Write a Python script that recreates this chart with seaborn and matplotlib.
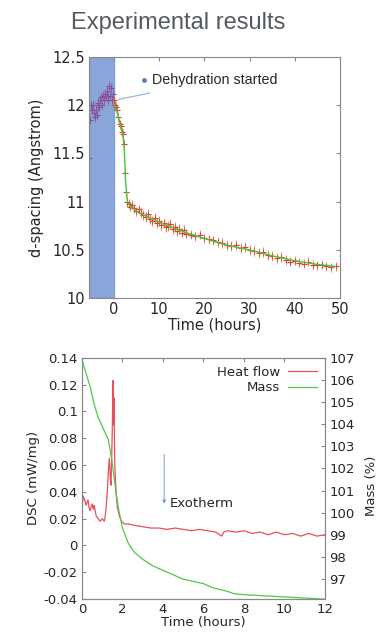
import numpy as np
import pandas as pd
import seaborn as sns
import matplotlib
matplotlib.use("Agg")
import matplotlib.pyplot as plt

# top panel: d-spacing vs time
t_pre = [-5.4, -5.2, -5.0, -4.8, -4.6, -4.4, -4.2, -4.0, -3.8, -3.6, -3.4, -3.2, -3.0, -2.8,
         -2.6, -2.4, -2.2, -2.0, -1.8, -1.6, -1.4, -1.2, -1.0, -0.8, -0.6, -0.4, -0.2]
d_pre = [11.45, 11.85, 12.0, 11.95, 12.0, 11.92, 11.88, 11.95, 11.9, 12.0, 12.02, 11.98, 12.05, 12.08,
         12.0, 12.1, 12.05, 12.12, 12.08, 12.15, 12.05, 12.1, 12.2, 12.1, 12.18, 12.05, 12.12]

t_post = [0.0, 0.25, 0.5, 0.75, 1.0, 1.25, 1.5, 1.75, 2.0, 2.25, 2.5, 2.75, 3.0, 3.25, 3.5, 4, 4.5, 5,
          5.5, 6, 6.5, 7, 7.5, 8, 8.5, 9, 9.5, 10, 10.5, 11, 11.5, 12, 12.5, 13, 13.5, 14, 14.5, 15,
          15.5, 16, 17, 18, 19, 20, 21, 22, 23, 24, 25, 26, 27, 28, 29, 30, 31, 32, 33, 34, 35, 36,
          37, 38, 39, 40, 41, 42, 43, 44, 45, 46, 47, 48, 49]
d_post = [12.05, 12.0, 11.98, 11.95, 11.88, 11.8, 11.78, 11.72, 11.7, 11.6, 11.3, 11.1, 11.0, 10.98,
          10.95, 10.97, 10.93, 10.9, 10.92, 10.88, 10.86, 10.84, 10.87, 10.82, 10.8, 10.83, 10.78, 10.8,
          10.76, 10.78, 10.74, 10.75, 10.77, 10.72, 10.74, 10.7, 10.72, 10.68, 10.71, 10.67, 10.66, 10.64,
          10.66, 10.62, 10.61, 10.6, 10.58, 10.57, 10.55, 10.54, 10.55, 10.52, 10.53, 10.5, 10.49, 10.47,
          10.48, 10.45, 10.44, 10.42, 10.43, 10.4, 10.38, 10.39, 10.37, 10.36, 10.38, 10.35, 10.34, 10.35,
          10.33, 10.32, 10.33]
d_err = 0.05

t_fit = [0, 0.5, 1, 1.5, 2, 2.3, 2.6, 3, 3.5, 5, 8, 12, 16, 20, 25, 30, 35, 40, 45, 49]
d_fit = [12.02, 11.97, 11.88, 11.78, 11.7, 11.55, 11.2, 11.0, 10.96, 10.9, 10.83, 10.75, 10.68,
         10.62, 10.55, 10.5, 10.44, 10.39, 10.35, 10.33]

# bottom panel: DSC heat flow + mass
t_hf = [0, 0.02, 0.05, 0.1, 0.15, 0.2, 0.25, 0.3, 0.35, 0.4, 0.45, 0.5, 0.55, 0.6, 0.65, 0.7, 0.8,
        0.9, 1.0, 1.1, 1.15, 1.2, 1.25, 1.3, 1.35, 1.4, 1.43, 1.46, 1.5, 1.53, 1.55, 1.58, 1.62, 1.68,
        1.75, 1.85, 1.95, 2.1, 2.3, 2.6, 3.0, 3.4, 3.8, 4.2, 4.6, 5.0, 5.4, 5.8, 6.2, 6.6, 6.9, 7.0,
        7.2, 7.6, 8.0, 8.4, 8.8, 9.2, 9.6, 10.0, 10.4, 10.8, 11.2, 11.6, 12.0]
heat_flow = [-0.025, 0.03, 0.037, 0.035, 0.033, 0.03, 0.032, 0.034, 0.028, 0.026, 0.029, 0.031, 0.027,
             0.03, 0.026, 0.022, 0.02, 0.018, 0.02, 0.018, 0.022, 0.03, 0.04, 0.055, 0.065, 0.05, 0.045,
             0.06, 0.09, 0.123, 0.09, 0.11, 0.06, 0.04, 0.028, 0.022, 0.018, 0.016, 0.016, 0.015, 0.014,
             0.013, 0.013, 0.012, 0.013, 0.012, 0.011, 0.012, 0.011, 0.01, 0.007, 0.01, 0.011, 0.01,
             0.011, 0.009, 0.01, 0.008, 0.01, 0.008, 0.009, 0.007, 0.009, 0.007, 0.008]

t_mass = [0, 0.2, 0.4, 0.6, 0.8, 1.0, 1.2, 1.3, 1.4, 1.5, 1.6, 1.7, 1.8, 2.0, 2.3, 2.6, 3.0, 3.5,
          4.0, 4.5, 5.0, 5.5, 6.0, 6.5, 7.0, 7.5, 8.0, 9, 10, 11, 12]
mass = [106.9, 106.3, 105.7, 104.9, 104.3, 103.9, 103.5, 103.3, 102.8, 102.2, 101.5, 100.8, 100.2,
        99.3, 98.6, 98.2, 97.9, 97.6, 97.4, 97.2, 97.0, 96.9, 96.8, 96.6, 96.5, 96.35, 96.3, 96.25,
        96.2, 96.15, 96.1]

sns.set_style("white")
plt.rcParams['font.family'] = ['DejaVu Sans']
plt.rcParams['xtick.direction'] = 'in'
plt.rcParams['ytick.direction'] = 'in'

fig = plt.figure(figsize=(3.77, 6.32), dpi=100)
fig.text(0.4735, 0.963, "Experimental results", ha='center', va='center', fontsize=17,
         color='#555a60', family=['Liberation Sans'])

# ---- top panel
ax1 = fig.add_axes([0.236, 0.528, 0.666, 0.382])
ax1.axvspan(-5.5, 0, color='#7c9bd6', alpha=0.9, zorder=0)
ax1.errorbar(t_pre, d_pre, yerr=d_err, fmt='none', ecolor='#8a5a9a', elinewidth=0.6, alpha=0.8)
ax1.errorbar(t_post, d_post, yerr=d_err, fmt='none', ecolor='#e8503a', elinewidth=0.6, alpha=0.8)
sns.scatterplot(x=t_pre, y=d_pre, ax=ax1, marker='+', color='#8a4a9a', s=14, linewidth=0.8)
sns.scatterplot(x=t_post, y=d_post, ax=ax1, marker='+', color='#e03a2a', s=14, linewidth=0.8)
sns.lineplot(x=t_fit, y=d_fit, ax=ax1, color='#3ccc3c', linewidth=1.0)
ax1.annotate("Dehydration started", xy=(1.0, 12.06), xytext=(8.4, 12.26),
             fontsize=10.3, family=['Liberation Sans'], va='center',
             arrowprops=dict(arrowstyle='-', color='#8fb0d8', lw=0.8, shrinkB=0, shrinkA=10))
ax1.plot([6.6], [12.26], marker='o', color='#5b7fc0', markersize=2.5)
ax1.set_xlim(-5.5, 50)
ax1.set_ylim(10, 12.5)
ax1.set_xticks([0, 10, 20, 30, 40, 50])
ax1.set_yticks([10, 10.5, 11, 11.5, 12, 12.5])
ax1.set_yticklabels(['10', '10.5', '11', '11.5', '12', '12.5'])
ax1.tick_params(labelsize=10.5, top=True, right=True, length=3, color='#888888', pad=3)
ax1.set_xlabel("Time (hours)", fontsize=10.5, labelpad=0)
ax1.set_ylabel("d-spacing (Angstrom)", fontsize=10.5, labelpad=6)
for s in ax1.spines.values():
    s.set_color('#888888')
    s.set_linewidth(0.8)

# ---- bottom panel
ax2 = fig.add_axes([0.2175, 0.052, 0.6445, 0.382])
sns.lineplot(x=t_hf, y=heat_flow, ax=ax2, color='#e8505a', linewidth=0.9, label='Heat flow', legend=False)
ax3 = ax2.twinx()
sns.lineplot(x=t_mass, y=mass, ax=ax3, color='#4cc94c', linewidth=0.9, label='Mass', legend=False)
ax2.annotate("", xy=(4.06, 0.029), xytext=(4.06, 0.07),
             arrowprops=dict(arrowstyle='-|>', color='#7aa0d0', lw=0.7, mutation_scale=5))
ax2.text(4.35, 0.0315, "Exotherm", fontsize=9.5, va='center')
ax2.set_xlim(0, 12)
ax2.set_ylim(-0.04, 0.14)
ax2.set_xticks([0, 2, 4, 6, 8, 10, 12])
yt = [-0.04, -0.02, 0, 0.02, 0.04, 0.06, 0.08, 0.1, 0.12, 0.14]
ax2.set_yticks(yt)
ax2.set_yticklabels(['%g' % v for v in yt])
ax2.tick_params(labelsize=9.5, top=True, length=3, color='#888888', pad=3)
ax3.set_ylim(96.1, 107.0)
ax3.set_yticks(list(range(97, 108)))
ax3.tick_params(labelsize=9.5, length=3, color='#888888', pad=3)
ax2.set_xlabel("Time (hours)", fontsize=9.5, labelpad=0)
ax2.set_ylabel("DSC (mW/mg)", fontsize=9.5, labelpad=3)
ax3.set_ylabel("Mass (%)", fontsize=9.5)
ax3.yaxis.set_label_coords(1.165, 0.47)
h1, l1 = ax2.get_legend_handles_labels()
h2, l2 = ax3.get_legend_handles_labels()
ax3.legend(h1 + h2, l1 + l2, loc='upper right', frameon=False, markerfirst=False, fontsize=9.5,
           handlelength=2.2, borderaxespad=0.2, labelspacing=0.2, handletextpad=0.6)
for ax in (ax2, ax3):
    for s in ax.spines.values():
        s.set_color('#888888')
        s.set_linewidth(0.8)

fig.savefig("out.png", dpi=100)
